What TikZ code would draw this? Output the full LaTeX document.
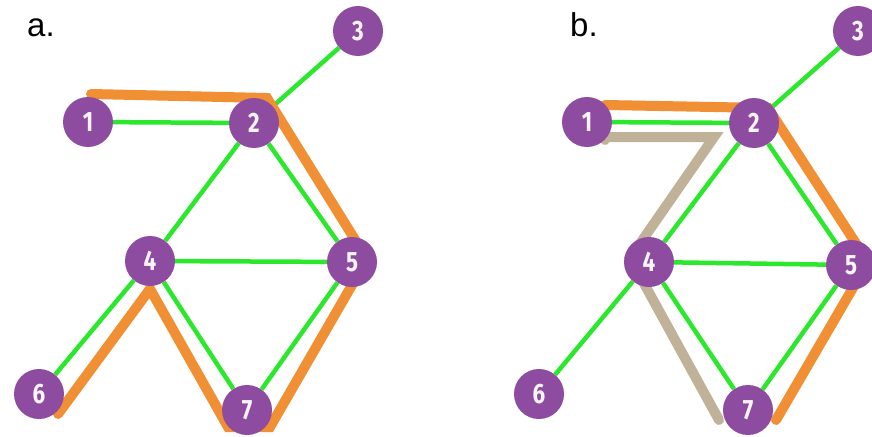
\documentclass[tikz,border=0pt]{standalone}
\usepackage{fontspec}
\setmainfont{Liberation Sans}
\newfontfamily\digitfont{Fira Sans}
\pgfdeclarelayer{bg}
\pgfdeclarelayer{paper}
\pgfsetlayers{paper,bg,main}
\definecolor{vpurple}{RGB}{142,76,160}
\definecolor{vgreen}{RGB}{44,232,44}
\definecolor{vorange}{RGB}{241,143,52}
\definecolor{vtan}{RGB}{192,178,152}
\tikzset{
  vert/.style={circle, fill=vpurple, minimum size=50pt, inner sep=0pt,
    text=white!94!vpurple, font=\digitfont\bfseries\fontsize{28}{28}\selectfont},
  gedge/.style={draw=vgreen, line width=4.5pt},
  opath/.style={draw=vorange, line width=10pt, line cap=round, line join=miter},
  tpath/.style={draw=vtan, line width=10pt, line cap=round, line join=miter},
  panellabel/.style={anchor=base west, inner sep=0pt, font=\fontsize{33}{33}\selectfont}
}
\newcommand{\dg}[1]{\scalebox{0.8}[1]{#1}}
\begin{document}
\begin{tikzpicture}[x=1pt,y=-1pt]
\useasboundingbox (0,0) rectangle (872,436);
\begin{pgfonlayer}{paper}
\fill[white] (0,0) rectangle (872,436);
\end{pgfonlayer}
% labels
\node[panellabel] (la) at (27,37) {a.};
\node[panellabel] (lb) at (570,37) {b.};
% panel a nodes
\node[vert] (a1) at (88,122) {\dg{1}};
\node[vert] (a2) at (254,123) {\dg{2}};
\node[vert] (a3) at (358,31) {\dg{3}};
\node[vert] (a4) at (150,261) {\dg{4}};
\node[vert] (a5) at (352,262) {\dg{5}};
\node[vert] (a6) at (39,394) {\dg{6}};
\node[vert] (a7) at (247,410) {\dg{7}};
% panel b nodes
\node[vert] (b1) at (587,122) {\dg{1}};
\node[vert] (b2) at (754,123) {\dg{2}};
\node[vert] (b3) at (858,31) {\dg{3}};
\node[vert] (b4) at (649,262) {\dg{4}};
\node[vert] (b5) at (851,265) {\dg{5}};
\node[vert] (b6) at (539,394) {\dg{6}};
\node[vert] (b7) at (748,410) {\dg{7}};
% path coordinates panel a
\coordinate (pa0) at (91,94);
\coordinate (pa1) at (267,98);
\coordinate (pa2) at (367,259);
\coordinate (pa3) at (270,427);
\coordinate (pa4) at (228,427);
\coordinate (pa5) at (150,289);
\coordinate (pa6) at (58,414);
% path coordinates panel b
\coordinate (po0) at (605,105);
\coordinate (po1) at (768,108);
\coordinate (po2) at (868,262);
\coordinate (po3) at (776,420);
\coordinate (pt0) at (605,140);
\coordinate (pt1) at (606,137);
\coordinate (pt2) at (714,137);
\coordinate (pt3) at (630,258);
\coordinate (pt4) at (719,420);
\begin{pgfonlayer}{bg}
  \foreach \p in {a,b}{
    \draw[gedge] (\p1) -- (\p2);
    \draw[gedge] (\p2) -- (\p3);
    \draw[gedge] (\p2) -- (\p4);
    \draw[gedge] (\p2) -- (\p5);
    \draw[gedge] (\p4) -- (\p5);
    \draw[gedge] (\p4) -- (\p6);
    \draw[gedge] (\p4) -- (\p7);
    \draw[gedge] (\p5) -- (\p7);
  }
  \draw[opath] (pa0) -- (pa1) -- (pa2) -- (pa3) -- (pa4) -- (pa5) -- (pa6);
  \draw[opath] (po0) -- (po1) -- (po2) -- (po3);
  \draw[tpath] (pt0) -- (pt1) -- (pt2) -- (pt3) -- (pt4);
\end{pgfonlayer}
\end{tikzpicture}
\end{document}
